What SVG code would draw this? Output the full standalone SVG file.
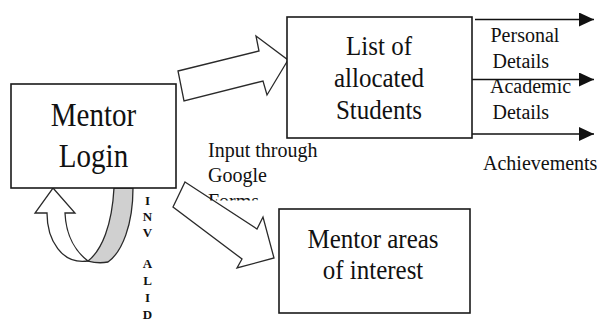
<svg xmlns="http://www.w3.org/2000/svg" width="597" height="329" viewBox="0 0 597 329">
<style>
.box{fill:#fff;stroke:#1a1a1a;stroke-width:1.6}
.blk{fill:#fff;stroke:#2a2a2a;stroke-width:1.3;stroke-linejoin:miter}
.t{font-family:"Liberation Serif","Times New Roman","DejaVu Serif",serif;fill:#111}
.big{font-size:29px;text-anchor:middle}
.mid{font-size:25px;text-anchor:middle}
.sm{font-size:20px}
.inv{font-size:13px;font-weight:bold;text-anchor:middle}
.ln{stroke:#111;stroke-width:1.6;fill:none;marker-end:url(#ah)}
</style>
<defs>
<marker id="ah" viewBox="0 0 15 14" refX="15" refY="7" markerWidth="15" markerHeight="14" markerUnits="userSpaceOnUse" orient="auto">
<path d="M0,0 L15,7 L0,14 Z" fill="#111"/>
</marker>
<clipPath id="formsClip"><rect x="200" y="130" width="140" height="70.5"/></clipPath>
</defs>
<rect width="597" height="329" fill="#fff"/>

<g id="connectors">
<polygon id="arrow-to-list" class="blk" points="178,71 259,51 256,36 288,60 267,95 263,81 184,101"/>
<polygon id="arrow-to-areas" class="blk" points="185,182 257,229 263,217 274,258 237,268 242,259 173,207"/>
<g id="invalid-loop">
<path d="M114,188 C112,225 102,250 88,261 C95,263 103,263 108,262 C122,252 133,225 133,188 Z" fill="#d0d0d0" stroke="#2a2a2a" stroke-width="1.3"/>
<path d="M53,188 L75,213 L65,213 C66,236 76,252 88,261 C62,265 47,240 47,213 L35,213 Z" class="blk"/>
</g>
<line class="ln" x1="475" y1="19.5" x2="594" y2="19.5"/>
<line class="ln" x1="472" y1="79.5" x2="594" y2="79.5"/>
<line class="ln" x1="472" y1="134" x2="594" y2="134"/>
</g>

<g id="mentor-login">
<rect class="box" x="11" y="84" width="165" height="104"/>
<text class="t big" transform="translate(93.5,126) scale(1,1.15)">Mentor</text>
<text class="t big" transform="translate(93.5,167) scale(1,1.15)">Login</text>
</g>

<g id="list-students">
<rect class="box" x="287" y="17" width="185" height="121"/>
<text class="t mid" transform="translate(379,54.5) scale(1,1.07)">List of</text>
<text class="t mid" transform="translate(379,87) scale(1,1.07)">allocated</text>
<text class="t mid" transform="translate(379,119) scale(1,1.07)">Students</text>
</g>

<g id="mentor-areas">
<rect class="box" x="279" y="209" width="191" height="104"/>
<text class="t mid" transform="translate(373,247.5) scale(1,1.08)">Mentor areas</text>
<text class="t mid" transform="translate(373,278.5) scale(1,1.08)">of interest</text>
</g>

<g id="labels">
<text class="t sm" x="490.5" y="41.5">Personal</text>
<text class="t sm" x="492.5" y="68">Details</text>
<text class="t sm" x="490" y="93">Academic</text>
<text class="t sm" x="492.5" y="118.5">Details</text>
<text class="t sm" x="483" y="170">Achievements</text>
<g clip-path="url(#formsClip)">
<text class="t sm" x="208" y="157">Input through</text>
<text class="t sm" x="208" y="182">Google</text>
<text class="t sm" x="208" y="208">Forms</text>
</g>
<text class="t inv" x="147.5" y="204.5">I</text>
<text class="t inv" x="147.5" y="220.5">N</text>
<text class="t inv" x="147.5" y="236.5">V</text>
<text class="t inv" x="147.5" y="267.5">A</text>
<text class="t inv" x="147.5" y="284.5">L</text>
<text class="t inv" x="147.5" y="301.5">I</text>
<text class="t inv" x="147.5" y="318.5">D</text>
</g>
</svg>
